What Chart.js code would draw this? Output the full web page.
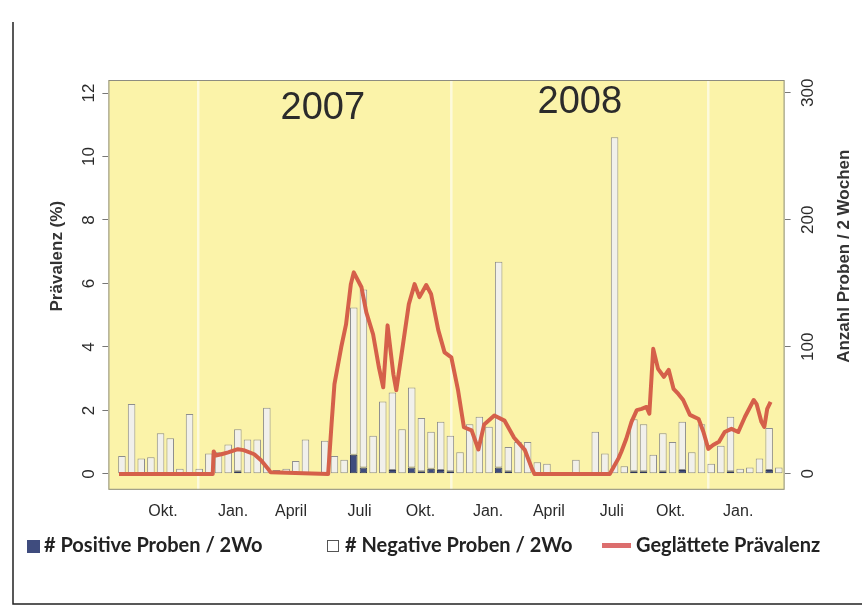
<!DOCTYPE html>
<html>
<head>
<meta charset="utf-8">
<script src="https://cdn.jsdelivr.net/npm/chart.js@4.4.0/dist/chart.umd.min.js"></script>
<style>
  html, body { margin: 0; padding: 0; background: #fff; }
  #wrap { width: 862px; height: 610px; }
</style>
</head>
<body>
<div id="wrap"><canvas id="prevChart" width="862" height="610"></canvas></div>
<script>
// two-week sampling periods, Aug 2006 - Mar 2009 (index = period number)
const positives = [0, 0, 0, 0, 0, 0, 0, 0, 0, 0,
  0, 0, 2, 0, 0, 0, 0, 0, 0, 0,
  0, 0, 0, 0, 15, 5, 0, 0, 3, 0,
  5, 2, 4, 3, 2, 0, 0, 0, 0, 5,
  2, 0, 0, 0, 0, 0, 0, 0, 0, 0,
  0, 0, 0, 2, 2, 0, 2, 0, 3, 0,
  0, 0, 0, 2, 0, 0, 0, 3, 0];
const negatives = [14, 55, 12, 13, 32, 28, 4, 47, 4, 16,
  17, 23, 33, 27, 27, 52, 3, 4, 10, 27,
  1, 26, 14, 11, 116, 140, 30, 57, 61, 35,
  63, 42, 29, 38, 28, 17, 39, 45, 37, 162,
  19, 25, 25, 9, 8, 0, 0, 11, 0, 33,
  16, 265, 6, 41, 37, 15, 30, 25, 38, 17,
  39, 8, 22, 43, 4, 5, 12, 33, 5];

// smoothed prevalence (%), positions in periods
const smoothX = [-0.3, 9.4, 9.5, 9.7, 10.3, 11.0, 12.0, 12.6, 13.7, 14.4, 15.1, 15.4,
  21.35, 21.7, 22.0, 22.7, 23.2, 23.7, 24.0, 24.8, 25.3, 26.0, 26.6, 27.05, 27.5,
  28.1, 28.4, 29.1, 29.7, 30.3, 30.8, 31.5, 32.0, 32.75, 33.4, 34.1, 34.8, 35.4,
  36.2, 36.9, 37.5, 38.55, 39.6, 40.6, 41.7, 42.4, 42.7,
  50.5, 51.4, 51.7, 52.2, 52.75, 53.3, 53.8, 54.3, 54.6, 55.0, 55.5, 56.1, 56.6,
  57.1, 57.6, 58.1, 58.8, 59.7, 60.2, 60.7, 61.2, 61.8, 62.4, 63.1, 63.8, 64.5,
  65.4, 65.7, 66.2, 66.5, 66.8, 67.15];
const smoothY = [0, 0, 0.71, 0.58, 0.62, 0.68, 0.78, 0.75, 0.62, 0.43, 0.17, 0.05,
  0, 1.57, 2.83, 3.99, 4.71, 5.98, 6.35, 5.88, 5.09, 4.4, 3.36, 2.73, 4.68,
  3.14, 2.64, 4.09, 5.35, 5.98, 5.57, 5.95, 5.67, 4.53, 3.83, 3.67, 2.63, 1.47,
  1.37, 0.77, 1.56, 1.84, 1.68, 1.14, 0.76, 0.2, 0,
  0, 0.49, 0.7, 1.1, 1.64, 2.01, 2.05, 2.11, 1.9, 3.94, 3.31, 3.06, 3.28,
  2.68, 2.52, 2.33, 1.86, 1.73, 1.32, 0.79, 0.91, 1.01, 1.32, 1.42, 1.32, 1.8,
  2.33, 2.2, 1.64, 1.48, 2.05, 2.27];

const monthPos = [4.25, 11.5, 17.5, 24.6, 30.9, 37.9, 44.2, 50.7, 56.8, 63.8];
const monthLabels = ['Okt.', 'Jan.', 'April', 'Juli', 'Okt.', 'Jan.', 'April', 'Juli', 'Okt.', 'Jan.'];
const years = ['2007', '2008'];
const yearPos = [20.8, 47.4];
const yearLevel = [11.5, 11.7];
const yearBreaks = [7.9, 34.1, 60.7];
const prevTicks = [0, 2, 4, 6, 8, 10, 12];
const countTicks = [0, 100, 200, 300];

const RED = '#d5604a';
const BLUE = '#3f4c7e';

const plotDecor = {
  id: 'plotDecor',
  beforeDraw(chart) {
    const { ctx, chartArea: a, scales: { x } } = chart;
    ctx.save();
    ctx.fillStyle = '#fbf3a9';
    ctx.fillRect(a.left, a.top, a.width, a.height);
    ctx.strokeStyle = 'rgba(255,255,255,0.6)';
    ctx.lineWidth = 2.5;
    yearBreaks.forEach(v => {
      const px = x.getPixelForValue(v);
      ctx.beginPath();
      ctx.moveTo(px, a.top);
      ctx.lineTo(px, a.bottom);
      ctx.stroke();
    });
    ctx.strokeStyle = '#8d8c80';
    ctx.lineWidth = 1;
    ctx.strokeRect(a.left + 0.5, a.top + 0.5, a.width - 1, a.height - 1);
    ctx.restore();
  },
  afterDraw(chart) {
    const { ctx, chartArea: a, scales: { x, y } } = chart;
    ctx.save();
    // year headings
    ctx.fillStyle = '#2b2b2b';
    ctx.font = "38px 'Liberation Sans', Arial, sans-serif";
    ctx.textAlign = 'center';
    ctx.textBaseline = 'middle';
    years.forEach((t, i) => ctx.fillText(t, x.getPixelForValue(yearPos[i]), y.getPixelForValue(yearLevel[i])));

    // axis titles
    ctx.font = "bold 17px 'Liberation Sans', Arial, sans-serif";
    ctx.fillStyle = '#333';
    const midY = a.top + a.height * 0.43;
    [[a.left - 51, 'Prävalenz (%)'], [a.right + 60, 'Anzahl Proben / 2 Wochen']].forEach(([tx, t]) => {
      ctx.save();
      ctx.translate(tx, midY);
      ctx.rotate(-Math.PI / 2);
      ctx.fillText(t, 0, 0);
      ctx.restore();
    });

    // legend
    const ly = 546;
    ctx.font = "bold 20px Lato, 'Liberation Sans', sans-serif";
    ctx.textAlign = 'left';
    ctx.fillStyle = BLUE;
    ctx.fillRect(27, ly - 6, 13, 13);
    ctx.fillStyle = '#222';
    ctx.fillText(chart.data.datasets[1].label, 44, ly);
    ctx.fillStyle = '#fff';
    ctx.strokeStyle = '#555';
    ctx.lineWidth = 1;
    ctx.fillRect(327, ly - 6, 12, 12);
    ctx.strokeRect(327.5, ly - 5.5, 11, 11);
    ctx.fillStyle = '#222';
    ctx.fillText(chart.data.datasets[2].label, 345, ly);
    ctx.fillStyle = '#dc6e6e';
    ctx.fillRect(602, ly - 3, 29, 5);
    ctx.fillStyle = '#222';
    ctx.fillText(chart.data.datasets[0].label, 636, ly);

    // slide frame
    ctx.strokeStyle = '#222';
    ctx.lineWidth = 1.5;
    ctx.beginPath();
    ctx.moveTo(13, 22);
    ctx.lineTo(13, 604);
    ctx.lineTo(862, 604);
    ctx.stroke();
    ctx.restore();
  }
};

Chart.defaults.font.family = "'Liberation Sans', Arial, sans-serif";
Chart.defaults.color = '#2a2a2a';

new Chart(document.getElementById('prevChart'), {
  type: 'bar',
  data: {
    datasets: [{
      type: 'line',
      label: 'Geglättete Prävalenz',
      data: smoothX.map((v, i) => ({ x: v, y: smoothY[i] })),
      yAxisID: 'y',
      borderColor: RED,
      borderWidth: 4,
      pointRadius: 0,
      tension: 0,
      borderJoinStyle: 'round',
      order: 0
    }, {
      label: '# Positive Proben / 2Wo',
      data: positives.map((v, i) => ({ x: i, y: v })),
      yAxisID: 'yR',
      backgroundColor: BLUE,
      borderColor: '#2f375a',
      borderWidth: 1,
      borderSkipped: false,
      barPercentage: 0.78,
      categoryPercentage: 1,
      order: 1
    }, {
      label: '# Negative Proben / 2Wo',
      data: negatives.map((v, i) => ({ x: i, y: v })),
      yAxisID: 'yR',
      backgroundColor: '#f1f0eb',
      borderColor: '#8e8e8e',
      borderWidth: 1,
      borderSkipped: false,
      barPercentage: 0.78,
      categoryPercentage: 1,
      order: 2
    }]
  },
  options: {
    responsive: false,
    animation: false,
    layout: { padding: { top: 80, bottom: 77, left: 74, right: 43 } },
    plugins: { legend: { display: false }, tooltip: { enabled: false } },
    scales: {
      x: {
        type: 'linear',
        offset: false,
        stacked: true,
        min: -1.4,
        max: 68.6,
        afterBuildTicks: s => { s.ticks = monthPos.map(v => ({ value: v })); },
        ticks: {
          autoSkip: false,
          maxRotation: 0,
          padding: 12,
          font: { size: 16 },
          callback: (v, i) => monthLabels[i]
        },
        grid: { display: false, drawTicks: false },
        border: { display: false }
      },
      y: {
        position: 'left',
        min: -0.5,
        max: 12.41,
        afterBuildTicks: s => { s.ticks = prevTicks.map(v => ({ value: v })); },
        ticks: { minRotation: 90, maxRotation: 90, crossAlign: 'center', padding: 4, font: { size: 17 } },
        grid: { drawOnChartArea: false, tickLength: 6, color: '#777' },
        border: { display: false }
      },
      yR: {
        position: 'right',
        stacked: true,
        min: -12.6,
        max: 310,
        afterBuildTicks: s => { s.ticks = countTicks.map(v => ({ value: v })); },
        ticks: { minRotation: 90, maxRotation: 90, crossAlign: 'center', padding: 4, font: { size: 17 } },
        grid: { drawOnChartArea: false, tickLength: 6, color: '#777' },
        border: { display: false }
      }
    }
  },
  plugins: [plotDecor]
});
</script>
</body>
</html>
